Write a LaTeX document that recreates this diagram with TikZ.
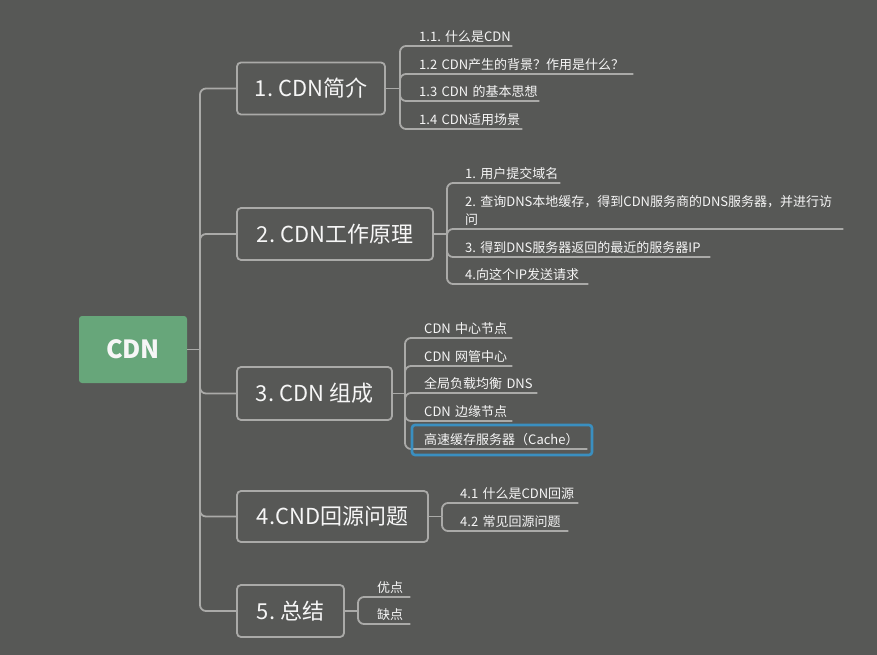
\documentclass[tikz,border=0pt]{standalone}
\usepackage{fontspec}
\setmainfont{Noto Sans CJK SC}
\definecolor{bgc}{RGB}{87,88,86}
\definecolor{linec}{RGB}{170,170,168}
\definecolor{txt}{RGB}{246,246,246}
\definecolor{rootg}{RGB}{103,166,122}
\definecolor{hlc}{RGB}{58,143,192}
\begin{document}
\frenchspacing
\begin{tikzpicture}[x=1pt,y=-1pt,
  conn/.style={draw=linec, line width=1.8pt, rounded corners=6pt},
  mainbox/.style={draw=linec, line width=1.8pt, rounded corners=4pt, fill=bgc, text=txt,
    font=\fontsize{22}{26}\selectfont, inner sep=0pt},
  rootbox/.style={fill=rootg, rounded corners=3pt, text=txt, font=\bfseries\fontsize{25}{30}\selectfont,
    minimum width=108pt, minimum height=67pt, inner sep=0pt},
  leaf/.style={anchor=south west, inner xsep=0pt, inner ysep=3pt, text=txt,
    font=\fontsize{13}{18}\selectfont\frenchspacing, align=left},
  hlbox/.style={draw=hlc, line width=2.6pt, rounded corners=3pt}
]
\useasboundingbox (0,0) rectangle (877,655);
\fill[bgc] (0,0) rectangle (877,655);

% root
\node[rootbox] (root) at (133,349.5) {CDN};
\coordinate (s0) at (200,349.5);

% main boxes
\node[mainbox, minimum width=148pt, minimum height=52pt] (b1) at (311,88.5) {1. CDN简介};
\node[mainbox, minimum width=196pt, minimum height=52pt] (b2) at (335,234) {2. CDN工作原理};
\node[mainbox, minimum width=155pt, minimum height=53pt] (b3) at (314.5,393.5) {3. CDN 组成};
\node[mainbox, minimum width=191pt, minimum height=51pt] (b4) at (332.5,516.5) {4.CND回源问题};
\node[mainbox, minimum width=107pt, minimum height=52pt] (b5) at (290.5,611) {5. 总结};

\draw[conn] (root.east) -- (s0);
\foreach \b in {b1,b2,b3,b4,b5} \draw[conn] (s0) |- (\b.west);

% group 1
\coordinate (k1) at (400,88.5);
\node[leaf, text width=93pt]  (c11) at (419,46)  {1.1.~什么是CDN};
\node[leaf, text width=214pt] (c12) at (419,74)  {1.2~CDN产生的背景？作用是什么？};
\node[leaf, text width=120pt] (c13) at (419,101) {1.3~CDN~的基本思想};
\node[leaf, text width=103pt] (c14) at (419,129) {1.4~CDN适用场景};
\draw[conn] (b1.east) -- (k1);
\foreach \c in {c11,c12,c13,c14} \draw[conn] (k1) |- (\c.south east);

% group 2
\coordinate (k2) at (447,234);
\node[leaf, text width=95pt]  (c21) at (465,183) {1.~用户提交域名};
\node[leaf, text width=378pt] (c22) at (465,229) {2.~查询DNS本地缓存，得到CDN服务商的DNS服务器，并进行访\\问};
\node[leaf, text width=245pt] (c23) at (465,257) {3.~得到DNS服务器返回的最近的服务器IP};
\node[leaf, text width=123pt] (c24) at (465,284) {4.向这个IP发送请求};
\draw[conn] (b2.east) -- (k2);
\foreach \c in {c21,c22,c23,c24} \draw[conn] (k2) |- (\c.south east);

% group 3
\coordinate (k3) at (405,393.5);
\node[leaf, text width=88pt]  (c31) at (424,338) {CDN~中心节点};
\node[leaf, text width=88pt]  (c32) at (424,366) {CDN~网管中心};
\node[leaf, text width=113pt] (c33) at (424,393) {全局负载均衡~DNS};
\node[leaf, text width=88pt]  (c34) at (424,421) {CDN~边缘节点};
\node[leaf, text width=163pt] (c35) at (424,449) {高速缓存服务器（Cache）};
\draw[conn] (b3.east) -- (k3);
\foreach \c in {c31,c32,c33,c34,c35} \draw[conn] (k3) |- (\c.south east);
\draw[hlbox] (412,425) rectangle (592,455);

% group 4
\coordinate (k4) at (442,516.5);
\node[leaf, text width=118pt] (c41) at (460,503) {4.1~什么是CDN回源};
\node[leaf, text width=108pt] (c42) at (460,531) {4.2~常见回源问题};
\draw[conn] (b4.east) -- (k4);
\foreach \c in {c41,c42} \draw[conn] (k4) |- (\c.south east);

% group 5
\coordinate (k5) at (358,611);
\node[leaf, text width=33pt] (c51) at (377,597) {优点};
\node[leaf, text width=33pt] (c52) at (377,624) {缺点};
\draw[conn] (b5.east) -- (k5);
\foreach \c in {c51,c52} \draw[conn] (k5) |- (\c.south east);
\end{tikzpicture}
\end{document}
